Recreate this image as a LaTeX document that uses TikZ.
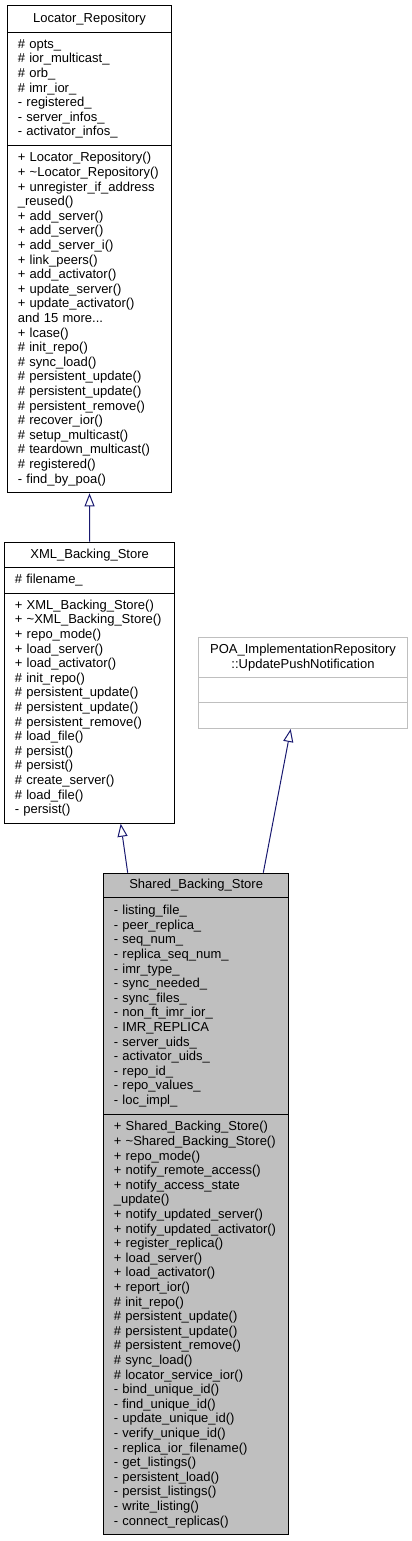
\documentclass[tikz,border=0pt]{standalone}
\usepackage{fontspec}
\setmainfont{Liberation Sans}
\usetikzlibrary{arrows.meta}
\definecolor{edgeblue}{HTML}{191970}
\definecolor{boxgray}{HTML}{BFBFBF}

\begin{document}
\begin{tikzpicture}[x=1pt, y=-1pt,
  font=\fontsize{13}{14.6}\selectfont,
  box/.style={draw=black, line width=1pt, inner xsep=10pt, inner ysep=0pt, anchor=north west},
  members/.style={box, align=left},
  inherit/.style={draw=edgeblue, line width=1pt, -{Triangle[open, length=13pt, width=10pt]}}]
  %%%%% START %%%%%
  \useasboundingbox (0, 0) rectangle (412, 1541);

  % Locator_Repository
  \node[box, minimum width=163.4pt, minimum height=26.7pt] (loc-title) at (7.3, 5.3) {Locator\_Repository};
  \node[members, text width=143.4pt, minimum height=113pt] (loc-attr) at (7.3, 32) {\# opts\_\\\# ior\_multicast\_\\\# orb\_\\\# imr\_ior\_\\- registered\_\\- server\_infos\_\\- activator\_infos\_};
  \node[members, text width=143.4pt, minimum height=347.3pt] (loc-meth) at (7.3, 145) {+ Locator\_Repository()\\+ \textasciitilde Locator\_Repository()\\+ unregister\_if\_address\\\_reused()\\+ add\_server()\\+ add\_server()\\+ add\_server\_i()\\+ link\_peers()\\+ add\_activator()\\+ update\_server()\\+ update\_activator()\\and 15 more...\\+ lcase()\\\# init\_repo()\\\# sync\_load()\\\# persistent\_update()\\\# persistent\_update()\\\# persistent\_remove()\\\# recover\_ior()\\\# setup\_multicast()\\\# teardown\_multicast()\\\# registered()\\- find\_by\_poa()};

  % XML_Backing_Store
  \node[box, minimum width=169.7pt, minimum height=25pt] (xml-title) at (4.3, 541.7) {XML\_Backing\_Store};
  \node[members, text width=149.7pt, minimum height=26pt] (xml-attr) at (4.3, 566.7) {\# filename\_};
  \node[members, text width=149.7pt, minimum height=230pt] (xml-meth) at (4.3, 592.7) {+ XML\_Backing\_Store()\\+ \textasciitilde XML\_Backing\_Store()\\+ repo\_mode()\\+ load\_server()\\+ load\_activator()\\\# init\_repo()\\\# persistent\_update()\\\# persistent\_update()\\\# persistent\_remove()\\\# load\_file()\\\# persist()\\\# persist()\\\# create\_server()\\\# load\_file()\\- persist()};

  % POA_ImplementationRepository::UpdatePushNotification
  \node[box, draw=boxgray, align=center, minimum width=209.6pt, minimum height=39.7pt, font=\fontsize{13}{15}\selectfont] (poa-title) at (197.7, 637) {POA\_ImplementationRepository\\::UpdatePushNotification};
  \node[box, draw=boxgray, minimum width=209.6pt, minimum height=25.6pt] (poa-attr) at (197.7, 676.7) {};
  \node[box, draw=boxgray, minimum width=209.6pt, minimum height=25.7pt] (poa-meth) at (197.7, 702.3) {};

  % Shared_Backing_Store
  \node[box, fill=boxgray, minimum width=184.7pt, minimum height=24.6pt] (shared-title) at (103.3, 872.7) {Shared\_Backing\_Store};
  \node[members, fill=boxgray, text width=164.7pt, minimum height=216.7pt] (shared-attr) at (103.3, 897.3) {- listing\_file\_\\- peer\_replica\_\\- seq\_num\_\\- replica\_seq\_num\_\\- imr\_type\_\\- sync\_needed\_\\- sync\_files\_\\- non\_ft\_imr\_ior\_\\- IMR\_REPLICA\\- server\_uids\_\\- activator\_uids\_\\- repo\_id\_\\- repo\_values\_\\- loc\_impl\_};
  \node[members, fill=boxgray, text width=164.7pt, minimum height=420.3pt] (shared-meth) at (103.3, 1114) {+ Shared\_Backing\_Store()\\+ \textasciitilde Shared\_Backing\_Store()\\+ repo\_mode()\\+ notify\_remote\_access()\\+ notify\_access\_state\\\_update()\\+ notify\_updated\_server()\\+ notify\_updated\_activator()\\+ register\_replica()\\+ load\_server()\\+ load\_activator()\\+ report\_ior()\\\# init\_repo()\\\# persistent\_update()\\\# persistent\_update()\\\# persistent\_remove()\\\# sync\_load()\\\# locator\_service\_ior()\\- bind\_unique\_id()\\- find\_unique\_id()\\- update\_unique\_id()\\- verify\_unique\_id()\\- replica\_ior\_filename()\\- get\_listings()\\- persistent\_load()\\- persist\_listings()\\- write\_listing()\\- connect\_replicas()};

  % inheritance
  \draw[inherit] (xml-title.north) -- (loc-meth.south);
  \draw[inherit] ([xshift=24.4pt]shared-title.north west) -- ([xshift=116.4pt]xml-meth.south west);
  \draw[inherit] ([xshift=160pt]shared-title.north west) -- ([xshift=93pt]poa-meth.south west);
  %%%%% END %%%%%
\end{tikzpicture}
\end{document}
